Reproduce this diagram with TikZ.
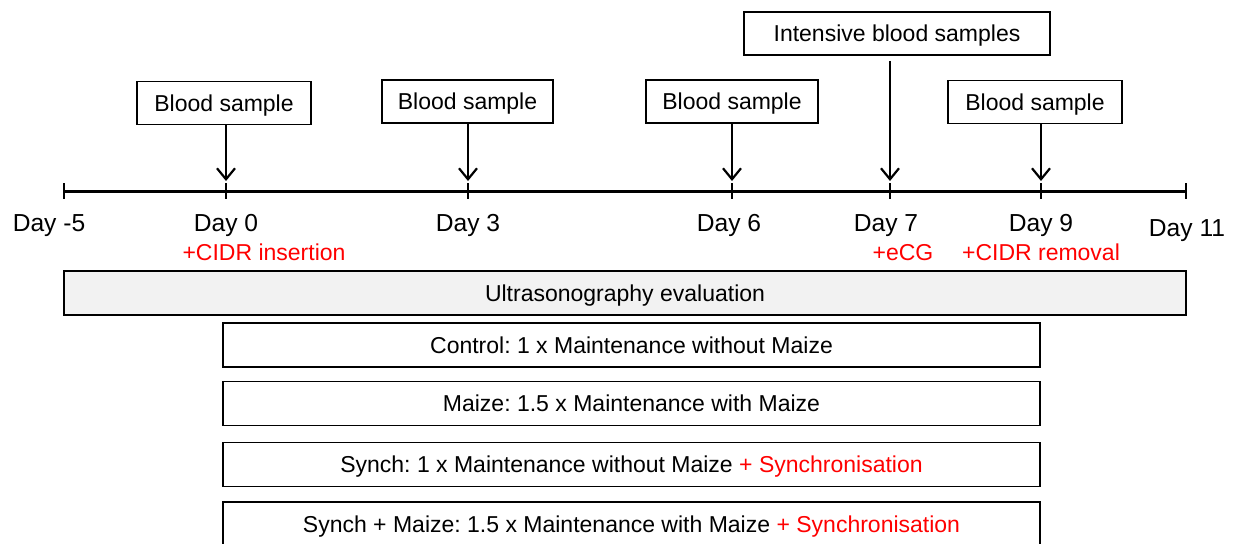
\documentclass[tikz,border=0pt]{standalone}
\usepackage{fontspec}
\setmainfont{Liberation Sans}
\frenchspacing
\usetikzlibrary{arrows.meta, calc, positioning}
\definecolor{cidr}{HTML}{FF0000}
\definecolor{usgray}{HTML}{F2F2F2}

\begin{document}
\begin{tikzpicture}[x=0.5pt, y=-0.5pt,
        every node/.style={font=\fontsize{11.5}{14}\selectfont, inner sep=0pt},
        box/.style={draw, line width=0.75pt, text height=9.4pt, text depth=1pt},
        sample/.style={box, minimum height=21.5pt},
        group/.style={box, minimum width=408.5pt, minimum height=22pt},
        day/.style={anchor=base, font=\fontsize{12.3}{14}\selectfont},
        event/.style={anchor=base, text=cidr},
        arr/.style={line width=1.1pt, -{Straight Barb[length=5.5pt, width=9pt, line width=1.1pt]}},
        tickmark/.style={line width=1pt}]
    \useasboundingbox (0,0) rectangle (1237,543);

    % timeline
    \coordinate (dm5) at (64,191);
    \coordinate (d0) at (226,191);
    \coordinate (d3) at (468,191);
    \coordinate (d6) at (732,191);
    \coordinate (d7) at (890,191);
    \coordinate (d9) at (1041,191);
    \coordinate (d11) at (1186,191);
    \draw[line width=1.5pt] (dm5) -- (d11);
    \foreach \d in {dm5, d0, d3, d6, d7, d9, d11}
        \draw[tickmark] ($(\d)+(0,-8)$) -- ($(\d)+(0,8)$);

    % day labels
    \node[day] (lm5) at (49,231) {Day -5};
    \node[day] (l0) at (226,231) {Day 0};
    \node[day] (l3) at (468,231) {Day 3};
    \node[day] (l6) at (729,231) {Day 6};
    \node[day] (l7) at (886,231) {Day 7};
    \node[day] (l9) at (1041,231) {Day 9};
    \node[day] (l11) at (1187,236) {Day 11};
    \node[event] (e0) at (264,260) {+CIDR insertion};
    \node[event] (e7) at (903,260) {+eCG};
    \node[event] (e9) at (1041,260) {+CIDR removal};

    % blood samples
    \node[sample, minimum width=87pt] (bs0) at (224,103) {Blood sample};
    \node[sample, minimum width=85.5pt] (bs3) at (467.5,101.5) {Blood sample};
    \node[sample, minimum width=86pt] (bs6) at (732,101.5) {Blood sample};
    \node[sample, minimum width=87pt] (bs9) at (1035,102) {Blood sample};
    \node[sample, minimum width=153pt] (ibs) at (897,33.5) {Intensive blood samples};
    \draw[arr] (bs0.south -| d0) -- ($(d0)+(0,-10)$);
    \draw[arr] (bs3.south -| d3) -- ($(d3)+(0,-10)$);
    \draw[arr] (bs6.south -| d6) -- ($(d6)+(0,-10)$);
    \draw[arr] (bs9.south -| d9) -- ($(d9)+(0,-10)$);
    \draw[arr, shorten <=2.5pt] (ibs.south -| d7) -- ($(d7)+(0,-10)$);

    % treatment groups
    \node[box, fill=usgray, minimum width=561pt, minimum height=22pt] (us) at (625,293) {Ultrasonography evaluation};
    \node[group] (ctrl) at (631.5,345) {Control: 1 x Maintenance without Maize};
    \node[group] (maize) at (631.5,403.5) {Maize: 1.5 x Maintenance with Maize};
    \node[group] (synch) at (631.5,464.5) {Synch: 1 x Maintenance without Maize \textcolor{cidr}{+ Synchronisation}};
    \node[group] (smaize) at (631.5,524) {Synch + Maize: 1.5 x Maintenance with Maize \textcolor{cidr}{+ Synchronisation}};
\end{tikzpicture}
\end{document}
